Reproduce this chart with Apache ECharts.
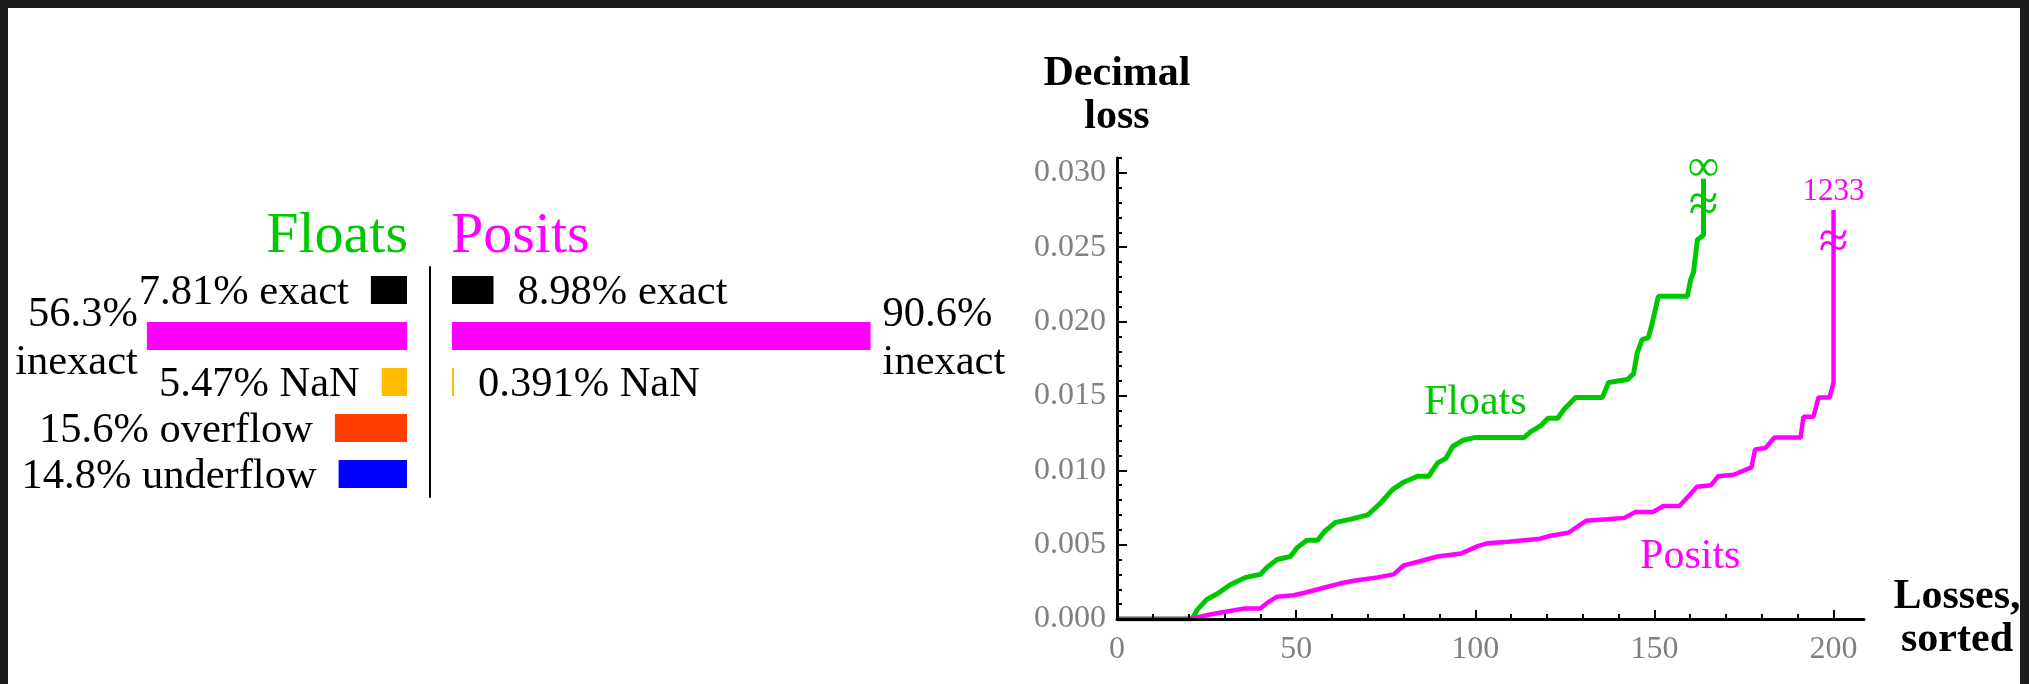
<!DOCTYPE html>
<html>
<head>
<meta charset="utf-8">
<title>Floats vs Posits</title>
<script src="https://cdn.jsdelivr.net/npm/echarts@6/dist/echarts.min.js"></script>
<style>
	html, body { margin: 0; padding: 0; background: #fff; }
	#main { width: 2029px; height: 684px; }
	/* 外框 */
	#frame {
		position: absolute; left: 0; top: 0; width: 2029px; height: 684px; box-sizing: border-box;
		border-top: 8px solid #1b1b1b; border-left: 8px solid #1b1b1b; border-right: 9px solid #1b1b1b;
		pointer-events: none;
	}
</style>
</head>
<body>
<div id="main"></div>
<div id="frame"></div>
<script>
// 左边：结果类型占比（%）
const rows = ['exact', 'inexact', 'NaN', 'overflow', 'underflow']
const rowColors = ['#000000', '#ff00ff', '#ffbb00', '#ff3f00', '#0000ff']
const floatsPct = [7.81, 56.3, 5.47, 15.6, 14.8]
const positsPct = [8.98, 90.6, 0.391, 0, 0]

// 右边：排序后的精度损失 [序号, 损失]
const floatsLoss = [
	[0, 0], [21, 0], [22.3, 0.0006], [25, 0.0013], [28, 0.0017], [31.6, 0.0023], [36, 0.0028],
	[40, 0.003], [42, 0.0035], [44.7, 0.004], [48.4, 0.0042], [50.3, 0.0048], [53, 0.0053],
	[56, 0.0053], [58, 0.0059], [61, 0.0065], [65, 0.0067], [70, 0.007], [73.6, 0.0078],
	[76.9, 0.0087], [80, 0.0092], [83.9, 0.0096], [87, 0.0096], [89.5, 0.0105], [91.8, 0.0108],
	[93.7, 0.0116], [96.4, 0.012], [99.7, 0.0122], [113.6, 0.0122], [115.5, 0.0126], [118.3, 0.013],
	[120.3, 0.0135], [123, 0.0135], [124.8, 0.0141], [128, 0.0149], [135.5, 0.0149], [137.2, 0.0159],
	[142.5, 0.0161], [144.2, 0.0165], [145.2, 0.0179], [146.6, 0.0188], [148.3, 0.0189], [149.4, 0.0199],
	[151.1, 0.0217], [159.2, 0.0217], [160.1, 0.0228], [160.9, 0.0233], [162, 0.0255], [163.7, 0.0258],
	[163.7, 0.0296]
]
const positsLoss = [
	[0, 0], [20.4, 0], [26, 0.0003], [30.7, 0.0005], [35.3, 0.0007], [40, 0.0007], [42, 0.0011],
	[44.7, 0.0015], [49.3, 0.0016], [53, 0.0018], [57.7, 0.0021], [62.4, 0.0024], [67, 0.0026],
	[72.7, 0.0028], [77.2, 0.003], [80, 0.0036], [84.8, 0.0039], [89.5, 0.0042], [96, 0.0044],
	[100.7, 0.0049], [103.5, 0.0051], [109.2, 0.0052], [118.1, 0.0054], [121, 0.0056], [126, 0.0058],
	[130.9, 0.0066], [136.8, 0.0067], [141.6, 0.0068], [144.7, 0.0072], [149.6, 0.0072], [152.5, 0.0076],
	[157, 0.0076], [161.9, 0.0089], [165.8, 0.009], [167.8, 0.0096], [172.1, 0.0097], [177.1, 0.0102],
	[178.1, 0.0114], [181, 0.0115], [183.5, 0.0122], [190.8, 0.0122], [191.6, 0.0136], [194.4, 0.0136],
	[195.8, 0.0149], [198.9, 0.0149], [200, 0.0159], [200, 0.0275]
]
// 曲线顶端的标注（超出范围的值）
const floatsTopText = '∞'
const positsTopText = '1233'

// 刻度
const xTicks = [0, 50, 100, 150, 200]
const xMinorTicks = [10, 20, 30, 40, 60, 70, 80, 90, 110, 120, 130, 140, 160, 170, 180, 190]
const yTicks = [0, 0.005, 0.01, 0.015, 0.02, 0.025, 0.03]
const yMinorTicks = [
	0.001, 0.002, 0.003, 0.004, 0.006, 0.007, 0.008, 0.009, 0.011, 0.012, 0.013, 0.014,
	0.016, 0.017, 0.018, 0.019, 0.021, 0.022, 0.023, 0.024, 0.026, 0.027, 0.028, 0.029, 0.031
]

const FONT = 'Liberation Serif'
const GREEN = '#00c800'
const MAGENTA = '#ff00ff'

const chart = echarts.init(document.getElementById('main'))

function barData(values, side) {
	return values.map((v, i) => {
		const item = { value: v === 0 ? '-' : v, itemStyle: { color: rowColors[i] } }
		if (rows[i] === 'inexact') {
			item.label = { distance: side === 'left' ? 9 : 12, lineHeight: 48 }
		}
		return item
	})
}
function barLabel(p) {
	const name = rows[p.dataIndex]
	return name === 'inexact' ? p.value + '%\ninexact' : p.value + '% ' + name
}

const minorTickAxis = {
	gridIndex: 0,
	type: 'value',
	min: 0,
	z: 3,
	axisLine: { show: false },
	axisLabel: { show: false },
	splitLine: { show: false },
}

const option = {
	animation: false,
	backgroundColor: '#fff',
	textStyle: { fontFamily: FONT },
	title: [
		{
			text: 'Floats',
			right: 1621,
			top: 208,
			padding: 0,
			textStyle: { color: GREEN, fontSize: 58, fontWeight: 'normal', fontFamily: FONT },
		},
		{
			text: 'Posits',
			left: 451,
			top: 208,
			padding: 0,
			textStyle: { color: MAGENTA, fontSize: 58, fontWeight: 'normal', fontFamily: FONT },
		},
	],
	grid: [
		{ left: 1117, top: 158, width: 747, height: 461 },
		{ left: 107, top: 267, width: 300, height: 230 },
		{ left: 452, top: 267, width: 462, height: 230 },
	],
	xAxis: [
		{
			gridIndex: 0,
			type: 'value',
			min: 0,
			max: 208.5,
			position: 'bottom',
			z: 3,
			axisLine: { lineStyle: { color: '#000', width: 3 } },
			axisTick: { inside: true, length: 9, customValues: xTicks, lineStyle: { color: '#000', width: 2 } },
			axisLabel: { customValues: xTicks, color: '#808080', fontSize: 32, fontFamily: FONT, margin: 15 },
			splitLine: { show: false },
			name: 'Losses,\nsorted',
			nameLocation: 'end',
			nameGap: 93,
			nameTextStyle: { color: '#000', fontSize: 42, fontWeight: 'bold', fontFamily: FONT, lineHeight: 43, align: 'center' },
		},
		Object.assign({}, minorTickAxis, {
			max: 208.5,
			position: 'bottom',
			axisTick: { inside: true, length: 5, customValues: xMinorTicks, lineStyle: { color: '#000', width: 2 } },
		}),
		// 左侧条形（向左延伸）
		{ gridIndex: 1, type: 'value', min: 0, max: 300 / 4.62, inverse: true, show: false },
		// 右侧条形
		{ gridIndex: 2, type: 'value', min: 0, max: 100, show: false },
	],
	yAxis: [
		{
			gridIndex: 0,
			type: 'value',
			min: 0,
			max: 0.031,
			position: 'left',
			z: 3,
			axisLine: { lineStyle: { color: '#000', width: 3 } },
			axisTick: { inside: true, length: 10, customValues: yTicks, lineStyle: { color: '#000', width: 2 } },
			axisLabel: {
				customValues: yTicks,
				formatter: (v) => v.toFixed(3),
				color: '#808080',
				fontSize: 32,
				fontFamily: FONT,
				margin: 11,
			},
			splitLine: { show: false },
			name: 'Decimal\nloss',
			nameLocation: 'end',
			nameGap: 19,
			nameTextStyle: { color: '#000', fontSize: 42, fontWeight: 'bold', fontFamily: FONT, lineHeight: 43 },
		},
		Object.assign({}, minorTickAxis, {
			max: 0.031,
			position: 'left',
			axisTick: { inside: true, length: 5, customValues: yMinorTicks, lineStyle: { color: '#000', width: 2 } },
		}),
		// 中间分隔竖线
		{
			gridIndex: 1,
			type: 'category',
			data: rows,
			inverse: true,
			position: 'right',
			offset: 23,
			axisLine: { show: true, onZero: false, lineStyle: { color: '#000', width: 2 } },
			axisTick: { show: false },
			axisLabel: { show: false },
		},
		{ gridIndex: 2, type: 'category', data: rows, inverse: true, show: false },
	],
	series: [
		{
			name: 'Floats',
			type: 'line',
			xAxisIndex: 0,
			yAxisIndex: 0,
			z: 1,
			symbol: 'none',
			lineStyle: { color: GREEN, width: 5 },
			data: floatsLoss,
			markPoint: {
				symbol: 'circle',
				symbolSize: 1,
				silent: true,
				itemStyle: { color: 'rgba(0,0,0,0)' },
				label: { show: true, position: 'inside', color: GREEN, fontFamily: FONT },
				data: [
					{ coord: [100, 0.0145], label: { formatter: 'Floats', fontSize: 42 } },
					{ coord: [163.7, 0.0303], label: { formatter: floatsTopText, fontSize: 44 } },
					{ coord: [163.7, 0.0277], label: { formatter: '≈', fontSize: 54 } },
				],
			},
		},
		{
			name: 'Posits',
			type: 'line',
			xAxisIndex: 0,
			yAxisIndex: 0,
			z: 1,
			symbol: 'none',
			lineStyle: { color: MAGENTA, width: 4.5 },
			data: positsLoss,
			markPoint: {
				symbol: 'circle',
				symbolSize: 1,
				silent: true,
				itemStyle: { color: 'rgba(0,0,0,0)' },
				label: { show: true, position: 'inside', color: MAGENTA, fontFamily: FONT },
				data: [
					{ coord: [160, 0.0042], label: { formatter: 'Posits', fontSize: 42 } },
					{ coord: [200, 0.0287], label: { formatter: positsTopText, fontSize: 31 } },
					{ coord: [200, 0.0252], label: { formatter: '≈', fontSize: 54 } },
				],
			},
		},
		{
			name: 'Floats 分类',
			type: 'bar',
			xAxisIndex: 2,
			yAxisIndex: 2,
			barWidth: 28,
			data: barData(floatsPct, 'left'),
			label: {
				show: true,
				position: 'left',
				distance: 22,
				offset: [0, 3],
				color: '#000',
				fontSize: 42.5,
				lineHeight: 44,
				fontFamily: FONT,
				formatter: barLabel,
			},
		},
		{
			name: 'Posits 分类',
			type: 'bar',
			xAxisIndex: 3,
			yAxisIndex: 3,
			barWidth: 28,
			barMinHeight: 2,
			data: barData(positsPct, 'right'),
			label: {
				show: true,
				position: 'right',
				distance: 24,
				offset: [0, 3],
				color: '#000',
				fontSize: 42.5,
				lineHeight: 44,
				fontFamily: FONT,
				formatter: barLabel,
			},
		},
	],
}
chart.setOption(option)
</script>
</body>
</html>
